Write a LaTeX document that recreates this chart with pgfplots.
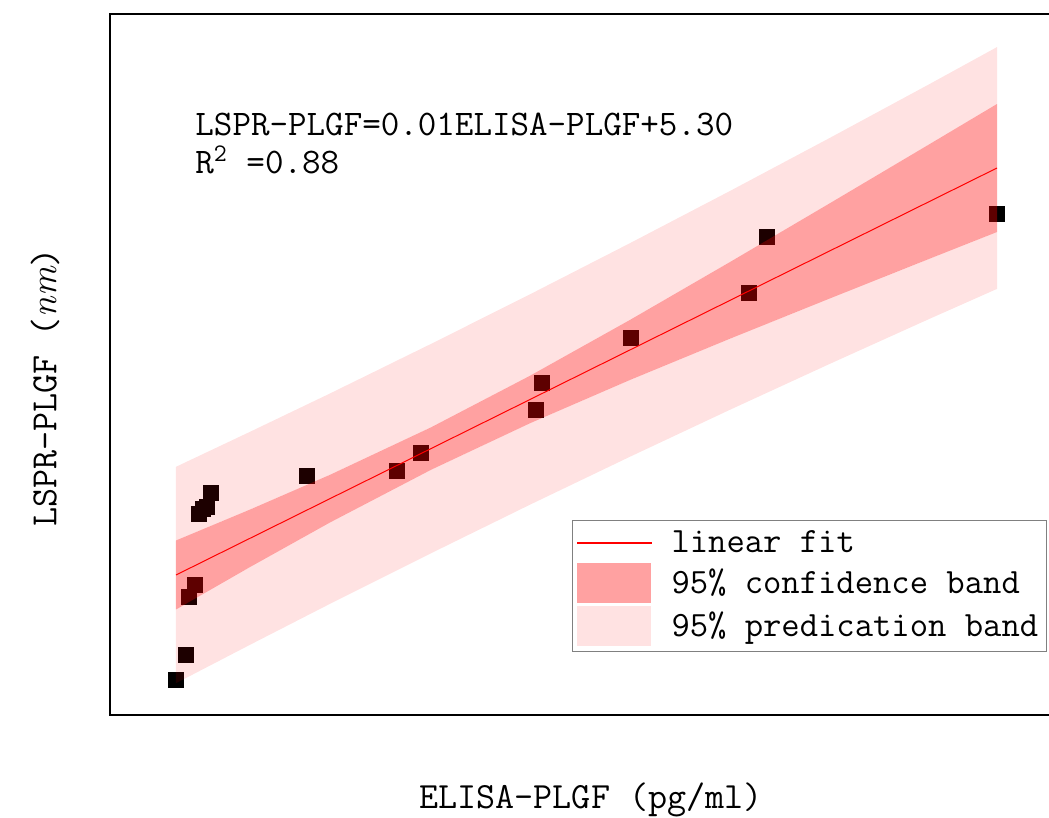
\documentclass[border=0pt]{standalone}
\usepackage{pgfplots}
\pgfplotsset{compat=1.18}

\newcommand{\labfont}{\ttfamily\fontsize{18.5}{20}\selectfont}

\pgfplotsset{
  lineleg/.style={legend image code/.code={\fill[fill=red, fill opacity=1] (0pt,-0.3pt) rectangle (37pt,0.3pt);}},
  confleg/.style={legend image code/.code={\fill[fill=red!37, fill opacity=1] (0pt,-10pt) rectangle (37pt,10pt);}},
  predleg/.style={legend image code/.code={\fill[fill=red!11.5, fill opacity=1] (0pt,-10pt) rectangle (37pt,10pt);}},
}

\begin{document}
\begin{tikzpicture}
\begin{axis}[
  scale only axis,
  width=481pt, height=350.5pt,
  xmin=-60, xmax=1094.4,
  ymin=2.103, ymax=19.072,
  xtick=\empty, ytick=\empty,
  clip marker paths=true,
  axis line style={line width=1.1pt},
  xlabel={ELISA-PLGF (pg/ml)},
  ylabel={LSPR-PLGF ({\rmfamily\itshape nm})},
  label style={font=\labfont},
  xlabel style={at={(axis description cs:0.5,-0.1213)}, anchor=center},
  ylabel style={at={(axis description cs:-0.0676,0.467)}, anchor=center},
  legend style={at={(axis description cs:0.4802,0.2782)}, anchor=north west,
    draw=gray, line width=0.6pt, fill=white,
    font=\ttfamily\fontsize{17.8}{20}\selectfont,
    inner xsep=2pt, inner ysep=3pt, row sep=1.5pt, column sep=8pt,
    cells={anchor=west}},
]
% measured points (ELISA-PLGF in pg/ml, LSPR-PLGF in nm)
\addplot[only marks, mark=square*, mark size=3.75pt, black, forget plot] table {
x      y
19.2   2.950
31.2   3.556
34.8   4.959
42.0   5.250
46.8   6.969
51.6   7.090
56.4   7.138
61.2   7.477
176.4  7.888
284.4  8.009
313.2  8.445
451.2  9.486
458.4  10.140
565.2  11.229
706.8  12.318
728.4  13.674
1004.4 14.230
};

\addplot[red, line width=0.5pt, lineleg]
  coordinates {(19.2,5.492) (1004.4,15.344)};

% 95% confidence band: upper edge, then lower edge backwards
\addplot[fill=red, fill opacity=0.37, draw=none, confleg] coordinates {
  (19.2,6.327) (108,7.075) (204,7.916) (325.2,9.065) (444,10.314)
  (564,11.666) (684,13.067) (804,14.492) (924,15.927) (1004.4,16.893)
  (1004.4,13.795) (924,13.153) (804,12.188) (684,11.213) (564,10.214)
  (444,9.166) (325.2,8.039) (204,6.764) (108,5.685) (19.2,4.657)
} -- cycle;

% 95% prediction band, upper part (between prediction and confidence upper edges)
\addplot[fill=red, fill opacity=0.115, draw=none, predleg] coordinates {
  (19.2,8.111) (108,8.958) (204,9.886) (325.2,11.086) (444,12.286)
  (564,13.525) (684,14.788) (804,16.075) (924,17.382) (1004.4,18.271)
  (1004.4,16.893) (924,15.927) (804,14.492) (684,13.067) (564,11.666)
  (444,10.314) (325.2,9.065) (204,7.916) (108,7.075) (19.2,6.327)
} -- cycle;

% 95% prediction band, lower part
\addplot[fill=red, fill opacity=0.115, draw=none, forget plot] coordinates {
  (19.2,4.657) (108,5.685) (204,6.764) (325.2,8.039) (444,9.166)
  (564,10.214) (684,11.213) (804,12.188) (924,13.153) (1004.4,13.795)
  (1004.4,12.417) (924,11.698) (804,10.605) (684,9.492) (564,8.355)
  (444,7.194) (325.2,6.018) (204,4.794) (108,3.802) (19.2,2.873)
} -- cycle;

\legend{linear fit, 95\% confidence band, 95\% predication band}

\node[anchor=north west, align=left, inner sep=0pt,
  font=\ttfamily\fontsize{18}{19}\selectfont]
  at (axis description cs:0.0884,0.859)
  {LSPR-PLGF=0.01ELISA-PLGF+5.30\\R\textsuperscript{2} =0.88};
\end{axis}
\pgfresetboundingbox
\path[use as bounding box] (current axis.south west) ++(-55pt,-51.5pt) rectangle ++(524.5pt,409pt);
\end{tikzpicture}
\end{document}
